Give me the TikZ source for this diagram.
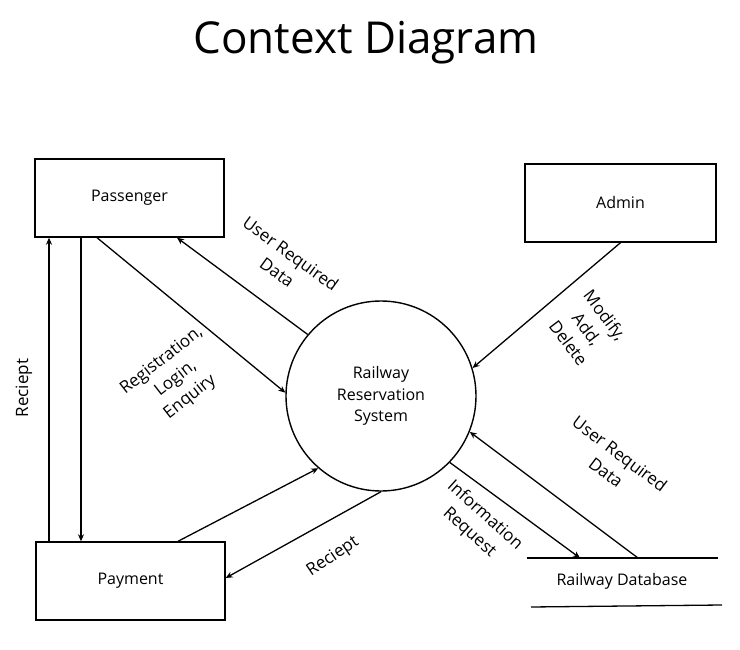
\documentclass[tikz,border=0pt]{standalone}
\usepackage{fontspec}
\setmainfont{Open Sans}
\usetikzlibrary{arrows.meta,calc}
\begin{document}
\begin{tikzpicture}[x=1pt,y=-1pt,
  ent/.style={draw,line width=1.4pt,inner sep=0pt,minimum width=189pt,minimum height=78pt,font=\fontsize{16}{20}\selectfont},
  proc/.style={draw,circle,line width=1.4pt,inner sep=0pt,minimum size=190pt,align=center,font=\fontsize{16}{21.5}\selectfont},
  flow/.style={line width=1.3pt,-{Stealth[length=7pt,width=6pt]}},
  plain/.style={line width=1.3pt},
  lbl/.style={align=center,inner sep=0pt,font=\fontsize{17}{23}\selectfont}]
\useasboundingbox (0,0) rectangle (740,650);
\fill[white] (0,0) rectangle (740,650);
\node[anchor=base,inner sep=0pt,font=\fontsize{44}{50}\selectfont] (title) at (366,54) {Context Diagram};
\node[ent] (pass) at (129.5,198) {Passenger};
\node[ent,minimum width=191pt] (admin) at (620.5,203) {Admin};
\node[ent] (pay) at (130.5,581) {Payment};
\node[proc] (sys) at (381,396) {Railway\\Reservation\\System};
\node[inner sep=0pt,font=\fontsize{16}{20}\selectfont] (db) at (622,581) {Railway Database};
\coordinate (dbtl) at (527,558);
\coordinate (dbtr) at (718,558);
\coordinate (dbbl) at (531,607);
\coordinate (dbbr) at (722,605);
\coordinate (dbin) at (580,558);
\coordinate (dbout) at (638,558);
\draw[plain] (dbtl) -- (dbtr);
\draw[plain] (dbbl) -- (dbbr);
% connectors
\draw[flow] ([xshift=-32.5pt]pass.south) -- (sys.178);
\draw[flow] (sys.140) -- ([xshift=47.5pt]pass.south);
\draw[flow] ([xshift=-81.5pt]pay.north) -- ([xshift=-80.5pt]pass.south);
\draw[flow] ([xshift=-48.5pt]pass.south) -- ([xshift=-49.5pt]pay.north);
\draw[flow] ([xshift=47.5pt]pay.north) -- (sys.229);
\draw[flow] (sys.270) -- ([yshift=3pt]pay.east);
\draw[flow] (admin.south) -- (sys.17);
\draw[flow] (dbout) -- (sys.-22);
\draw[flow] (sys.-44) -- (dbin);
% labels
\node[lbl,rotate=38] (l1) at (176,379) {Registration,\\Login,\\Enquiry};
\node[lbl,rotate=-36] (l2) at (284,263) {User Required\\Data};
\node[lbl,rotate=90] (l3) at (24,388) {Reciept};
\node[lbl,rotate=34] (l4) at (333,557) {Reciept};
\node[lbl,rotate=-53] (l5) at (587,329) {Modify,\\Add,\\Delete};
\node[lbl,rotate=-37] (l6) at (613,463) {User Required\\Data};
\node[lbl,rotate=-42] (l7) at (477,524) {Information\\Request};
\end{tikzpicture}
\end{document}
